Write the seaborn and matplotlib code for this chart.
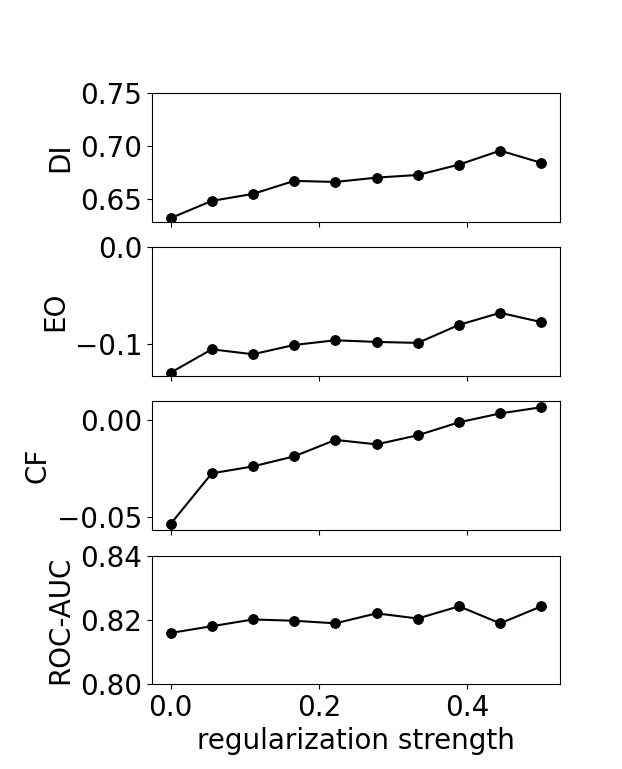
import numpy as np
import pandas as pd
import matplotlib
matplotlib.use("Agg")
import matplotlib.pyplot as plt
import seaborn as sns

# regularization strengths (10 evenly spaced runs)
strength = [0.0, 0.0556, 0.1111, 0.1667, 0.2222, 0.2778, 0.3333, 0.3889, 0.4444, 0.5]

# metrics
di = [0.6318, 0.6481, 0.6547, 0.6670, 0.6660, 0.6701, 0.6726, 0.6824, 0.6956, 0.6840]
eo = [-0.1293, -0.1052, -0.1103, -0.1007, -0.0959, -0.0976, -0.0986, -0.0800, -0.0676, -0.0772]
cf = [-0.0538, -0.0276, -0.0240, -0.0188, -0.0103, -0.0126, -0.0079, -0.0012, 0.0034, 0.0066]
auc = [0.8159, 0.8180, 0.8201, 0.8197, 0.8189, 0.8220, 0.8204, 0.8242, 0.8189, 0.8242]

metric_names = ["DI", "EO", "CF", "ROC-AUC"]
metric_values = [di, eo, cf, auc]
yticks = [[0.65, 0.70, 0.75], [-0.1, 0.0], [-0.05, 0.00], [0.80, 0.82, 0.84]]
ytick_labels = [["0.65", "0.70", "0.75"], ["\u22120.1", "0.0"],
                ["\u22120.05", "0.00"], ["0.80", "0.82", "0.84"]]

plt.rcParams["font.size"] = 20

fig, axes = plt.subplots(4, 1, figsize=(6.22, 7.69), dpi=100, sharex=True)
fig.subplots_adjust(left=0.2444, right=0.9003, top=0.879, bottom=0.1105, hspace=0.2)

for i, ax in enumerate(axes):
    df = pd.DataFrame({"strength": strength, "value": metric_values[i]})
    sns.lineplot(data=df, x="strength", y="value", ax=ax, marker="o",
                 color="black", markersize=7, markeredgecolor="black",
                 linewidth=1.5)
    ax.set_ylabel(metric_names[i], fontsize=20)
    ax.set_xlabel("")
    ax.set_yticks(yticks[i])
    ax.set_yticklabels(ytick_labels[i])
    ax.tick_params(labelsize=20)

axes[0].set_ylim(top=0.75)
axes[1].set_ylim(top=0.0)
axes[3].set_ylim(0.80, 0.84)

axes[-1].set_xticks([0.0, 0.2, 0.4])
axes[-1].set_xticklabels(["0.0", "0.2", "0.4"])
axes[-1].set_xlabel("regularization strength", fontsize=20)

fig.savefig("out.png", dpi=100)
